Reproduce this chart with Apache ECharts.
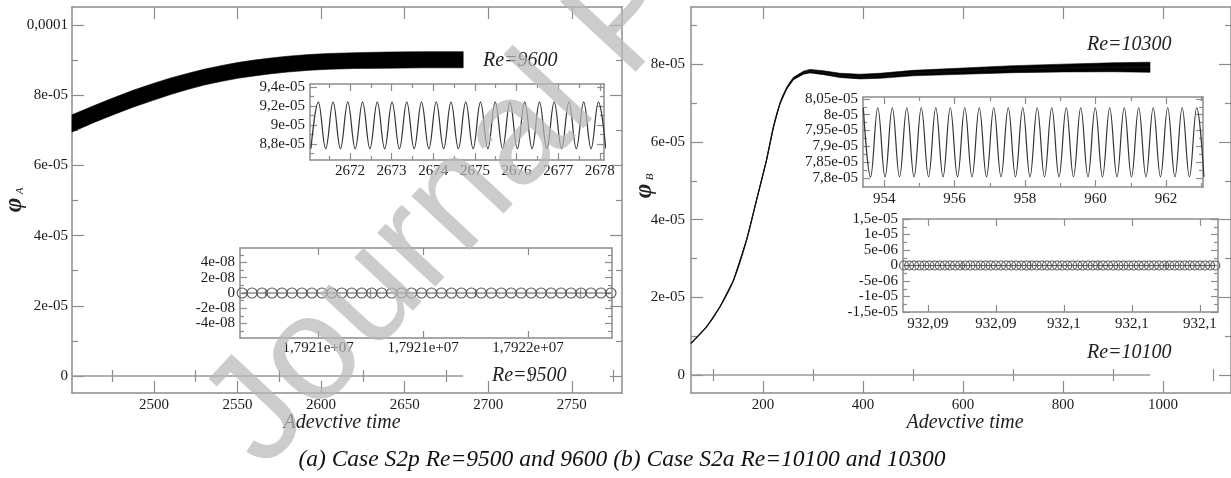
<!DOCTYPE html>
<html>
<head>
<meta charset="utf-8">
<script src="https://cdn.jsdelivr.net/npm/echarts@6/dist/echarts.min.js"></script>
<style>
  html, body { margin: 0; padding: 0; background: #fff; }
  #chart { width: 1231px; height: 478px; }
</style>
</head>
<body>
<div id="chart"></div>
<script>
// ---------- panel (a): Re=9600 band (upper / lower edge of the oscillation) ----------
const timeA9600 = [2451, 2465, 2475, 2487.5, 2500, 2510, 2520, 2530, 2540, 2550, 2560, 2570, 2580, 2593, 2605, 2620, 2640, 2660, 2685];
const upperA9600 = [7.44e-5, 7.72e-5, 7.91e-5, 8.14e-5, 8.34e-5, 8.49e-5, 8.62e-5, 8.74e-5, 8.84e-5, 8.93e-5, 9.00e-5, 9.06e-5, 9.11e-5, 9.16e-5, 9.19e-5, 9.21e-5, 9.23e-5, 9.24e-5, 9.24e-5];
const lowerA9600 = [6.95e-5, 7.24e-5, 7.43e-5, 7.66e-5, 7.86e-5, 8.02e-5, 8.16e-5, 8.29e-5, 8.39e-5, 8.48e-5, 8.55e-5, 8.61e-5, 8.66e-5, 8.71e-5, 8.74e-5, 8.76e-5, 8.77e-5, 8.78e-5, 8.78e-5];
// Re=9500 stays at zero
const timeA9500 = [2451, 2685];
const phiA9500 = [0, 0];

// inset (a) top: zoom on the Re=9600 oscillation (troughs / peaks)
const insetATime = [2671.063, 2671.240, 2671.417, 2671.594, 2671.771, 2671.948, 2672.125, 2672.302, 2672.479, 2672.656,
  2672.833, 2673.010, 2673.187, 2673.364, 2673.541, 2673.718, 2673.895, 2674.072, 2674.249, 2674.426,
  2674.603, 2674.780, 2674.957, 2675.134, 2675.311, 2675.488, 2675.665, 2675.842, 2676.019, 2676.196,
  2676.373, 2676.550, 2676.727, 2676.904, 2677.081, 2677.258, 2677.435, 2677.612, 2677.789, 2677.966, 2678.143];
const insetAPhi = [8.75e-5, 9.24e-5, 8.75e-5, 9.24e-5, 8.75e-5, 9.24e-5, 8.75e-5, 9.24e-5, 8.75e-5, 9.24e-5,
  8.75e-5, 9.24e-5, 8.75e-5, 9.24e-5, 8.75e-5, 9.24e-5, 8.75e-5, 9.24e-5, 8.75e-5, 9.24e-5,
  8.75e-5, 9.24e-5, 8.75e-5, 9.24e-5, 8.75e-5, 9.24e-5, 8.75e-5, 9.24e-5, 8.75e-5, 9.24e-5,
  8.75e-5, 9.24e-5, 8.75e-5, 9.24e-5, 8.75e-5, 9.24e-5, 8.75e-5, 9.24e-5, 8.75e-5, 9.24e-5, 8.75e-5];

// inset (a) bottom: Re=9500 samples
const insetCTime = [17920510, 17920548, 17920586, 17920624, 17920662, 17920700, 17920738, 17920776, 17920814, 17920852,
  17920890, 17920928, 17920966, 17921004, 17921042, 17921080, 17921118, 17921156, 17921194, 17921232,
  17921270, 17921308, 17921346, 17921384, 17921422, 17921460, 17921498, 17921536, 17921574, 17921612,
  17921650, 17921688, 17921726, 17921764, 17921802, 17921840, 17921878, 17921916];
const insetCPhi = [0, 0, 0, 0, 0, 0, 0, 0, 0, 0, 0, 0, 0, 0, 0, 0, 0, 0, 0, 0,
  0, 0, 0, 0, 0, 0, 0, 0, 0, 0, 0, 0, 0, 0, 0, 0, 0, 0];

// ---------- panel (b): Re=10300 curve (centre and half thickness) ----------
const timeB10300 = [56, 87, 114, 141, 167, 187, 207, 221, 234, 247, 261, 281, 294, 321, 354, 394, 434, 500, 600, 700, 800, 900, 974];
const centreB10300 = [0.82e-5, 1.24e-5, 1.76e-5, 2.44e-5, 3.47e-5, 4.50e-5, 5.53e-5, 6.39e-5, 6.99e-5, 7.37e-5, 7.63e-5, 7.78e-5,
  7.82e-5, 7.78e-5, 7.71e-5, 7.68e-5, 7.70e-5, 7.77e-5, 7.82e-5, 7.87e-5, 7.90e-5, 7.92e-5, 7.92e-5];
const halfB10300 = [0.005e-5, 0.005e-5, 0.005e-5, 0.006e-5, 0.007e-5, 0.008e-5, 0.01e-5, 0.015e-5, 0.02e-5, 0.025e-5, 0.03e-5, 0.04e-5,
  0.045e-5, 0.05e-5, 0.055e-5, 0.06e-5, 0.065e-5, 0.07e-5, 0.08e-5, 0.09e-5, 0.10e-5, 0.115e-5, 0.13e-5];
// Re=10100 stays at zero
const timeB10100 = [56, 974];
const phiB10100 = [0, 0];

// inset (b) top: zoom on Re=10300 oscillation (peaks / troughs)
const insetBTime = [953.409, 953.614, 953.820, 954.026, 954.231, 954.437, 954.643, 954.849, 955.054, 955.260,
  955.466, 955.671, 955.877, 956.083, 956.288, 956.494, 956.700, 956.906, 957.111, 957.317,
  957.523, 957.728, 957.934, 958.140, 958.345, 958.551, 958.757, 958.963, 959.168, 959.374,
  959.580, 959.785, 959.991, 960.197, 960.402, 960.608, 960.814, 961.020, 961.225, 961.431,
  961.637, 961.842, 962.048, 962.254, 962.459, 962.665, 962.871, 963.077];
const insetBPhi = [8.022e-5, 7.803e-5, 8.022e-5, 7.803e-5, 8.022e-5, 7.803e-5, 8.022e-5, 7.803e-5, 8.022e-5, 7.803e-5,
  8.022e-5, 7.803e-5, 8.022e-5, 7.803e-5, 8.022e-5, 7.803e-5, 8.022e-5, 7.803e-5, 8.022e-5, 7.803e-5,
  8.022e-5, 7.803e-5, 8.022e-5, 7.803e-5, 8.022e-5, 7.803e-5, 8.022e-5, 7.803e-5, 8.022e-5, 7.803e-5,
  8.022e-5, 7.803e-5, 8.022e-5, 7.803e-5, 8.022e-5, 7.803e-5, 8.022e-5, 7.803e-5, 8.022e-5, 7.803e-5,
  8.022e-5, 7.803e-5, 8.022e-5, 7.803e-5, 8.022e-5, 7.803e-5, 8.022e-5, 7.803e-5];

// inset (b) bottom: Re=10100 samples
const insetDTime = [932.09130, 932.09145, 932.09160, 932.09175, 932.09190, 932.09205, 932.09220, 932.09235, 932.09250, 932.09265,
  932.09280, 932.09295, 932.09310, 932.09325, 932.09340, 932.09355, 932.09370, 932.09385, 932.09400, 932.09415,
  932.09430, 932.09445, 932.09460, 932.09475, 932.09490, 932.09505, 932.09520, 932.09535, 932.09550, 932.09565,
  932.09580, 932.09595, 932.09610, 932.09625, 932.09640, 932.09655, 932.09670, 932.09685, 932.09700, 932.09715,
  932.09730, 932.09745, 932.09760, 932.09775, 932.09790, 932.09805, 932.09820, 932.09835, 932.09850, 932.09865,
  932.09880, 932.09895, 932.09910, 932.09925, 932.09940, 932.09955, 932.09970, 932.09985, 932.10000, 932.10015,
  932.10030, 932.10045];
const insetDPhi = [0, 0, 0, 0, 0, 0, 0, 0, 0, 0, 0, 0, 0, 0, 0, 0, 0, 0, 0, 0,
  0, 0, 0, 0, 0, 0, 0, 0, 0, 0, 0, 0, 0, 0, 0, 0, 0, 0, 0, 0,
  0, 0, 0, 0, 0, 0, 0, 0, 0, 0, 0, 0, 0, 0, 0, 0, 0, 0, 0, 0, 0, 0];

// ---------- ticks and tick labels ----------
const ticksAx = [2500, 2550, 2600, 2650, 2700, 2750];
const labelsAx = ['2500', '2550', '2600', '2650', '2700', '2750'];
const minorAx = [2475, 2525, 2575, 2625, 2675, 2725, 2775];
const ticksAy = [0, 2e-5, 4e-5, 6e-5, 8e-5, 1e-4];
const labelsAy = ['0', '2e-05', '4e-05', '6e-05', '8e-05', '0,0001'];
const minorAy = [1e-5, 3e-5, 5e-5, 7e-5, 9e-5];

const ticksInsetAx = [2672, 2673, 2674, 2675, 2676, 2677, 2678];
const labelsInsetAx = ['2672', '2673', '2674', '2675', '2676', '2677', '2678'];
const minorInsetAx = [2671.5, 2672.5, 2673.5, 2674.5, 2675.5, 2676.5, 2677.5];
const ticksInsetAy = [8.8e-5, 9e-5, 9.2e-5, 9.4e-5];
const labelsInsetAy = ['8,8e-05', '9e-05', '9,2e-05', '9,4e-05'];
const minorInsetAy = [8.7e-5, 8.9e-5, 9.1e-5, 9.3e-5];

const ticksInsetCx = [17920800, 17921200, 17921600];
const labelsInsetCx = ['1,7921e+07', '1,7921e+07', '1,7922e+07'];
const minorInsetCx = [17920600, 17921000, 17921400, 17921800];
const ticksInsetCy = [-4e-8, -2e-8, 0, 2e-8, 4e-8];
const labelsInsetCy = ['-4e-08', '-2e-08', '0', '2e-08', '4e-08'];
const minorInsetCy = [-5e-8, -3e-8, -1e-8, 1e-8, 3e-8, 5e-8];

const ticksBx = [200, 400, 600, 800, 1000];
const labelsBx = ['200', '400', '600', '800', '1000'];
const minorBx = [100, 300, 500, 700, 900, 1100];
const ticksBy = [0, 2e-5, 4e-5, 6e-5, 8e-5];
const labelsBy = ['0', '2e-05', '4e-05', '6e-05', '8e-05'];
const minorBy = [1e-5, 3e-5, 5e-5, 7e-5, 9e-5];

const ticksInsetBx = [954, 956, 958, 960, 962];
const labelsInsetBx = ['954', '956', '958', '960', '962'];
const minorInsetBx = [955, 957, 959, 961, 963];
const ticksInsetBy = [7.8e-5, 7.85e-5, 7.9e-5, 7.95e-5, 8e-5, 8.05e-5];
const labelsInsetBy = ['7,8e-05', '7,85e-05', '7,9e-05', '7,95e-05', '8e-05', '8,05e-05'];
const minorInsetBy = [7.825e-5, 7.875e-5, 7.925e-5, 7.975e-5, 8.025e-5];

const ticksInsetDx = [932.092, 932.094, 932.096, 932.098, 932.1];
const labelsInsetDx = ['932,09', '932,09', '932,1', '932,1', '932,1'];
const minorInsetDx = [932.093, 932.095, 932.097, 932.099];
const ticksInsetDy = [-1.5e-5, -1e-5, -5e-6, 0, 5e-6, 1e-5, 1.5e-5];
const labelsInsetDy = ['-1,5e-05', '-1e-05', '-5e-06', '0', '5e-06', '1e-05', '1,5e-05'];
const minorInsetDy = [-1.25e-5, -7.5e-6, -2.5e-6, 2.5e-6, 7.5e-6, 1.25e-5];

// ---------- building the chart ----------
const axisColor = '#8c8c8c';
const serif = '"Liberation Serif", "Times New Roman", serif';
const pairs = (xs, ys) => xs.map((x, i) => [x, ys[i]]);

const insetGrid = { show: true, backgroundColor: '#fff', borderWidth: 0 };
const grids = [
  { left: 72, top: 7, width: 550, height: 386 },                 // 0 panel (a)
  { left: 310, top: 84, width: 294, height: 76, ...insetGrid },  // 1 inset Re=9600
  { left: 240, top: 248, width: 372, height: 90, ...insetGrid }, // 2 inset Re=9500
  { left: 691, top: 7, width: 540, height: 386 },                // 3 panel (b)
  { left: 863, top: 97, width: 340, height: 90, ...insetGrid },  // 4 inset Re=10300
  { left: 903, top: 219, width: 315, height: 93, ...insetGrid }  // 5 inset Re=10100
];

const xAxes = [];
const yAxes = [];

// one frame = labelled axis + minor-tick axis on one side, mirrored ticks on the other side
function addAxes(list, dim, gridIndex, o) {
  const sides = dim === 'x' ? ['bottom', 'top'] : ['left', 'right'];
  const long = o.inset ? 7 : 12;
  const short = o.inset ? 4 : 6;
  const first = list.length;
  const tol = (o.max - o.min) * 1e-6;
  const label = (v) => {
    const i = o.ticks.findIndex((t) => Math.abs(t - v) < tol);
    return i < 0 ? '' : o.labels[i];
  };
  sides.forEach((side, k) => {
    const common = {
      type: 'value', gridIndex, position: side, min: o.min, max: o.max,
      splitLine: { show: false }, splitArea: { show: false }
    };
    list.push({
      ...common,
      axisLine: { show: true, onZero: false, lineStyle: { color: axisColor, width: 1.5 } },
      axisTick: { show: true, inside: true, length: long, customValues: o.ticks, lineStyle: { color: axisColor, width: 1.2 } },
      axisLabel: k === 0
        ? { show: true, customValues: o.ticks, formatter: label, margin: o.margin, color: '#1a1a1a', fontFamily: serif, fontSize: 15 }
        : { show: false }
    });
    list.push({
      ...common,
      axisLine: { show: false },
      axisTick: { show: true, inside: true, length: short, customValues: o.minor, lineStyle: { color: axisColor, width: 1.2 } },
      axisLabel: { show: false, customValues: o.minor }
    });
  });
  return first;
}

const ax = [
  addAxes(xAxes, 'x', 0, { min: 2451, max: 2780, ticks: ticksAx, labels: labelsAx, minor: minorAx, margin: 5 }),
  addAxes(xAxes, 'x', 1, { min: 2671.04, max: 2678.1, ticks: ticksInsetAx, labels: labelsInsetAx, minor: minorInsetAx, margin: 4, inset: true }),
  addAxes(xAxes, 'x', 2, { min: 17920502, max: 17921920, ticks: ticksInsetCx, labels: labelsInsetCx, minor: minorInsetCx, margin: 3, inset: true }),
  addAxes(xAxes, 'x', 3, { min: 56, max: 1136, ticks: ticksBx, labels: labelsBx, minor: minorBx, margin: 5 }),
  addAxes(xAxes, 'x', 4, { min: 953.40, max: 963.05, ticks: ticksInsetBx, labels: labelsInsetBx, minor: minorInsetBx, margin: 5, inset: true }),
  addAxes(xAxes, 'x', 5, { min: 932.09127, max: 932.10053, ticks: ticksInsetDx, labels: labelsInsetDx, minor: minorInsetDx, margin: 5, inset: true })
];
const ay = [
  addAxes(yAxes, 'y', 0, { min: -4.84e-6, max: 1.0513e-4, ticks: ticksAy, labels: labelsAy, minor: minorAy, margin: 4 }),
  addAxes(yAxes, 'y', 1, { min: 8.63e-5, max: 9.43e-5, ticks: ticksInsetAy, labels: labelsInsetAy, minor: minorInsetAy, margin: 5, inset: true }),
  addAxes(yAxes, 'y', 2, { min: -5.9e-8, max: 5.9e-8, ticks: ticksInsetCy, labels: labelsInsetCy, minor: minorInsetCy, margin: 5, inset: true }),
  addAxes(yAxes, 'y', 3, { min: -4.6e-6, max: 9.47e-5, ticks: ticksBy, labels: labelsBy, minor: minorBy, margin: 6 }),
  addAxes(yAxes, 'y', 4, { min: 7.771e-5, max: 8.056e-5, ticks: ticksInsetBy, labels: labelsInsetBy, minor: minorInsetBy, margin: 5, inset: true }),
  addAxes(yAxes, 'y', 5, { min: -1.5e-5, max: 1.5e-5, ticks: ticksInsetDy, labels: labelsInsetDy, minor: minorInsetDy, margin: 5, inset: true })
];

const on = (g) => ({ xAxisIndex: ax[g], yAxisIndex: ay[g] });
const noSym = { symbol: 'none', silent: true };

// thick oscillating curve drawn as a filled band between its lower and upper edge
function band(g, times, lower, upper) {
  return {
    type: 'custom', ...on(g), silent: true, z: 3,
    data: [[times[0], lower[0]]],
    renderItem: (params, api) => {
      const top = times.map((t, i) => api.coord([t, upper[i]]));
      const bottom = times.map((t, i) => api.coord([t, lower[i]])).reverse();
      return { type: 'polygon', shape: { points: top.concat(bottom) }, style: { fill: '#000', stroke: '#000', lineWidth: 0.6 } };
    }
  };
}

const lowerB = centreB10300.map((c, i) => c - halfB10300[i]);
const upperB = centreB10300.map((c, i) => c + halfB10300[i]);

const circles = (size) => ({
  symbol: 'circle', symbolSize: size, showSymbol: true, showAllSymbol: true,
  itemStyle: { color: 'rgba(0,0,0,0)', borderColor: '#555', borderWidth: 1.1 },
  lineStyle: { color: '#555', width: 1 }
});

const series = [
  band(0, timeA9600, lowerA9600, upperA9600),
  { type: 'line', name: 'Re9500', ...on(0), ...noSym, lineStyle: { color: '#999', width: 1.5 }, data: pairs(timeA9500, phiA9500) },
  { type: 'line', name: 'insetA', ...on(1), ...noSym, smooth: 0.4, lineStyle: { color: '#333', width: 1.2 }, data: pairs(insetATime, insetAPhi) },
  { type: 'line', name: 'insetC', ...on(2), silent: true, ...circles(10), data: pairs(insetCTime, insetCPhi) },
  band(3, timeB10300, lowerB, upperB),
  { type: 'line', name: 'Re10300c', ...on(3), ...noSym, smooth: 0.3, lineStyle: { color: '#111', width: 1.3 }, data: pairs(timeB10300, centreB10300) },
  { type: 'line', name: 'Re10100', ...on(3), ...noSym, lineStyle: { color: '#999', width: 1.5 }, data: pairs(timeB10100, phiB10100) },
  { type: 'line', name: 'insetB', ...on(4), ...noSym, smooth: 0.4, lineStyle: { color: '#333', width: 1.2 }, data: pairs(insetBTime, insetBPhi) },
  { type: 'line', name: 'insetD', ...on(5), silent: true, ...circles(9), data: pairs(insetDTime, insetDPhi) }
];

const txt = (text, x, y, font, extra) => ({
  type: 'text', x, y, silent: true, z: 50, ...(extra || {}),
  style: { text, font, fill: '#222', textAlign: 'left', textVerticalAlign: 'middle', align: 'left', verticalAlign: 'middle', ...((extra && extra.style) || {}) }
});
const it20 = 'italic 20px ' + serif;
const centred = { style: { textAlign: 'center', align: 'center' } };
const upright = { rotation: Math.PI / 2, style: { textAlign: 'center', align: 'center' } };

const graphics = [
  txt('Re=9600', 483, 60.5, it20),
  txt('Re=9500', 492, 375.5, it20),
  txt('Re=10300', 1087, 44.5, it20),
  txt('Re=10100', 1087, 352.5, it20),
  txt('Adevctive time', 342, 423, it20, centred),
  txt('Adevctive time', 965, 423, it20, centred),
  txt('φ', 15, 205, 'italic bold 25px ' + serif, upright),
  txt('A', 20, 191, 'italic 11px ' + serif, upright),
  txt('φ', 645, 191, 'italic bold 25px ' + serif, upright),
  txt('B', 650, 177, 'italic 11px ' + serif, upright),
  txt('(a) Case S2p Re=9500 and 9600 (b) Case S2a Re=10100 and 10300', 622, 460, 'italic 23.5px ' + serif,
    { style: { textAlign: 'center', align: 'center', fill: '#111' } }),
  // "Journal Pre-proof" watermark
  {
    type: 'text', x: 288, y: 494, rotation: 47 * Math.PI / 180, silent: true, z: 100,
    style: {
      text: 'Journal Pre-proof', font: '150px "Liberation Sans", Arial, sans-serif',
      fill: 'rgba(185,185,185,0.72)', textAlign: 'left', align: 'left',
      textVerticalAlign: 'bottom', verticalAlign: 'bottom'
    }
  }
];

const chart = echarts.init(document.getElementById('chart'), null, { renderer: 'canvas' });
chart.setOption({
  animation: false,
  backgroundColor: '#fff',
  grid: grids,
  xAxis: xAxes,
  yAxis: yAxes,
  series,
  graphic: graphics
});
</script>
</body>
</html>
